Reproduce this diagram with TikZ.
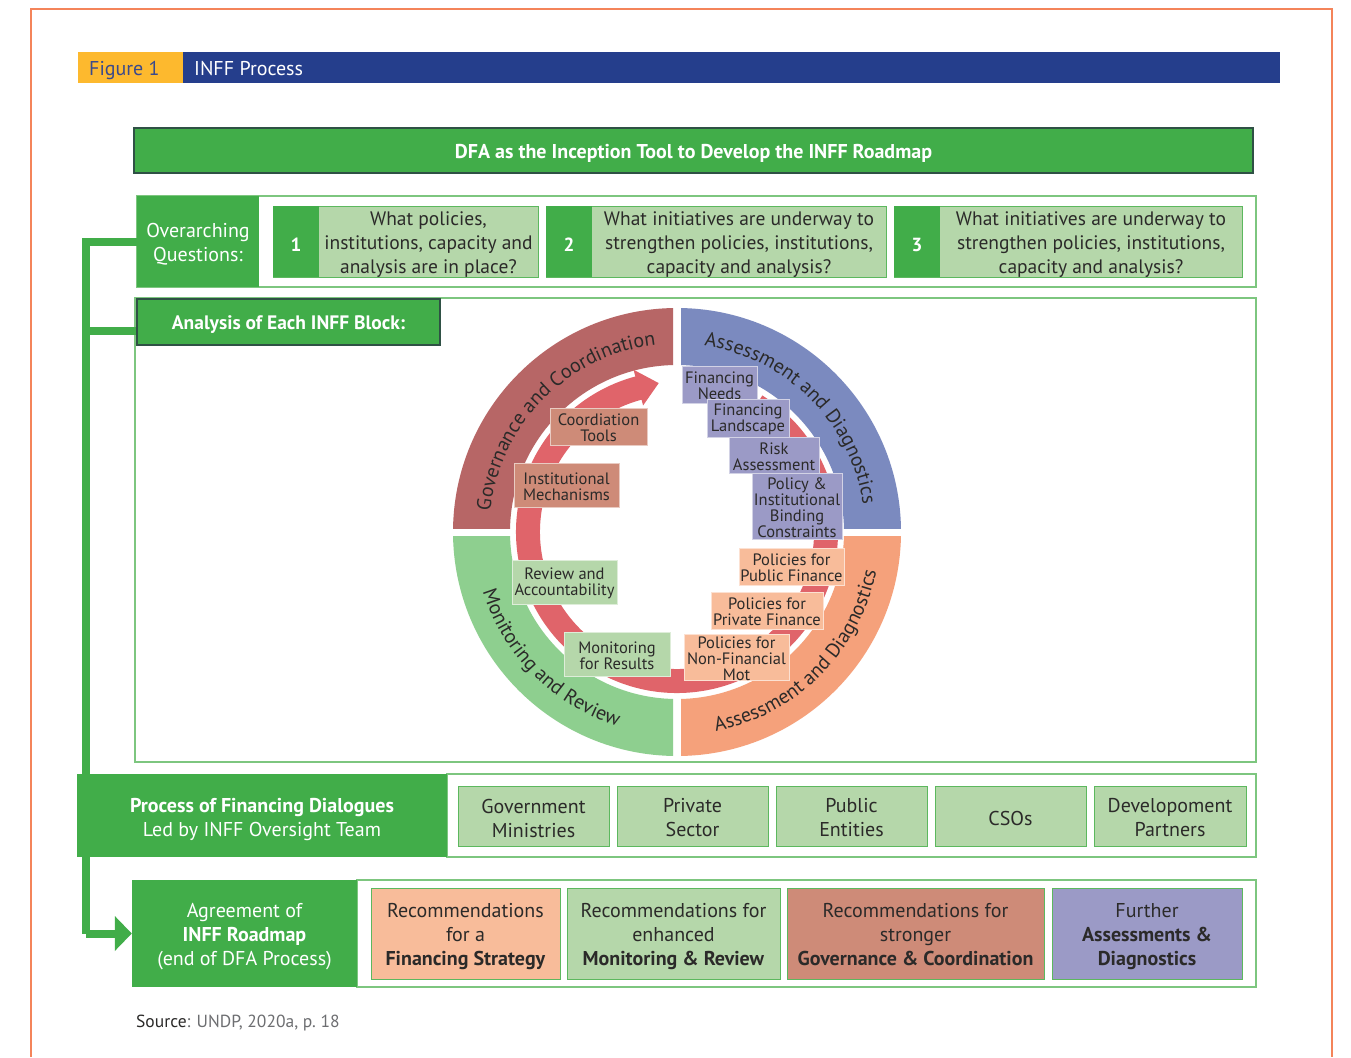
\documentclass[tikz,border=0pt]{standalone}
\usepackage{fontspec}
\setmainfont{PT Sans}
\usetikzlibrary{arrows.meta,decorations.text,calc}
\definecolor{gmain}{HTML}{41AD49}
\definecolor{glight}{HTML}{B5D7AA}
\definecolor{gframe}{HTML}{7DC67F}
\definecolor{gborder}{HTML}{5CB85E}
\definecolor{darkedge}{HTML}{2F5145}
\definecolor{hyellow}{HTML}{FDB92E}
\definecolor{hblue}{HTML}{253E8C}
\definecolor{figtext}{HTML}{3A4A8C}
\definecolor{peach}{HTML}{F8BC9A}
\definecolor{brownc}{HTML}{CE8B78}
\definecolor{purplec}{HTML}{9B9AC6}
\definecolor{ringGC}{HTML}{B76666}
\definecolor{ringAD}{HTML}{7B8ABF}
\definecolor{ringADb}{HTML}{F5A17B}
\definecolor{ringMR}{HTML}{8ECF8F}
\definecolor{arrowred}{HTML}{E0646A}
\definecolor{txt}{HTML}{2B2A29}
\definecolor{srcgray}{HTML}{6D6E71}
\definecolor{orangeframe}{HTML}{F4845A}
\newcommand\fs[2]{\fontsize{#1}{#2}\selectfont}
% \mybox[text shift]{style}{x1}{y1}{x2}{y2}{name}{text}
\newcommand\mybox[8][3]{%
  \node[#2,minimum width={(#5)-(#3)},minimum height={(#6)-(#4)}] (#7) at ({((#3)+(#5))/2},{((#4)+(#6))/2}) {};
  \node[#2,draw=none,fill=none] (#7-t) at ($(#7.center)+(0,#1)$) {#8};}
\begin{document}
\begin{tikzpicture}[x=1pt,y=-1pt,
  greenbox/.style={fill=gmain, text=white, inner sep=0, align=center},
  lightbox/.style={fill=glight, draw=gborder, line width=1, text=txt, inner sep=0, align=center},
  recbox/.style={draw=gborder, line width=1, text=txt, inner sep=0, align=center, font=\fs{20}{24}, text depth=4.4pt},
  partbox/.style={lightbox, font=\fs{20}{24}},
  qbox/.style={lightbox, font=\fs{19.5}{24}},
  numbox/.style={greenbox, font=\bfseries\fs{19}{24}},
  framebox/.style={draw=gframe, line width=1.3},
  conn/.style={draw=gmain, line width=8, line join=miter},
  ib/.style={inner sep=0, align=center, text=txt, line width=1, font=\fs{16.5}{16}},
  ringtext/.style={decorate, decoration={text along path, text align=center, text color=txt}}
]
\useasboundingbox[fill=white] (0,0) rectangle (1351,1057);
\draw[orangeframe, line width=1.2] (31,1057) -- (31,9) -- (1332,9) -- (1332,1057);

% header
\mybox{fill=hyellow, inner sep=0}{78}{52}{183}{83}{figbox}{}
\mybox{fill=hblue, inner sep=0}{183}{52}{1280}{83}{bluebar}{}
\node[anchor=base west, text=figtext, font=\fs{20}{24}, inner sep=0] (figtxt) at (89,75) {Figure 1};
\node[anchor=base west, text=white, font=\fs{20}{24}, inner sep=0] (proctitle) at (194,75) {INFF Process};

% title bar
\mybox{greenbox, draw=darkedge, line width=1.2, font=\bfseries\fs{20}{24}}{134}{128}{1253}{173}{title}{DFA as the Inception Tool to Develop the INFF Roadmap}

% frames
\draw[framebox] (137,196) rectangle (1256,287);
\draw[framebox] (135,298) rectangle (1256,762);
\draw[framebox] (447,774) rectangle (1256,857);
\draw[framebox] (357,880) rectangle (1256,987);

% boxes that the trunk attaches to
\mybox{greenbox, font=\fs{20}{24}}{137}{196}{259}{287}{ovq}{Overarching\\Questions:}
\mybox{greenbox, draw=darkedge, line width=1.2, font=\bfseries\fs{19.5}{24}}{137}{299}{440}{345}{ana}{Analysis of Each INFF Block:}
\mybox{greenbox, font=\fs{20}{24}}{132}{880}{357}{987}{agr}{Agreement of\\\textbf{INFF Roadmap}\\(end of DFA Process)}

% trunk connector
\coordinate (tk2) at (86,331);
\coordinate (tk3) at (86,933.5);
\draw[conn] (ovq.west) -| (tk3);
\draw[conn] (tk2) -- (ana.west |- tk2);
\draw[conn, -{Triangle[length=17pt,width=34pt]}] (tk3) -- (agr.west);

% question boxes
\mybox{qbox}{273}{206}{538}{277}{q1}{}
\mybox{qbox}{546}{206}{886}{277}{q2}{}
\mybox{qbox}{894}{206}{1242}{277}{q3}{}
\mybox{numbox}{273}{206}{319}{277}{n1}{1}
\mybox{numbox}{546}{206}{592}{277}{n2}{2}
\mybox{numbox}{894}{206}{940}{277}{n3}{3}
\node[text=txt, align=center, font=\fs{19.5}{24}, inner sep=0] (q1t) at (428.5,244.5) {What policies,\\institutions, capacity and\\analysis are in place?};
\node[text=txt, align=center, font=\fs{19.5}{24}, inner sep=0] (q2t) at (739,244.5) {What initiatives are underway to\\strengthen policies, institutions,\\capacity and analysis?};
\node[text=txt, align=center, font=\fs{19.5}{24}, inner sep=0] (q3t) at (1091,244.5) {What initiatives are underway to\\strengthen policies, institutions,\\capacity and analysis?};

% ring
\begin{scope}[shift={(677,532)}, y=1pt]
  \begin{scope}
    \clip (4,4) rectangle (240,240);
    \fill[ringAD, even odd rule] (0,0) circle[radius=224] (0,0) circle[radius=167];
  \end{scope}
  \begin{scope}
    \clip (-4,4) rectangle (-240,240);
    \fill[ringGC, even odd rule] (0,0) circle[radius=224] (0,0) circle[radius=167];
  \end{scope}
  \begin{scope}
    \clip (4,-4) rectangle (240,-240);
    \fill[ringADb, even odd rule] (0,0) circle[radius=224] (0,0) circle[radius=167];
  \end{scope}
  \begin{scope}
    \clip (-4,-4) rectangle (-240,-240);
    \fill[ringMR, even odd rule] (0,0) circle[radius=224] (0,0) circle[radius=167];
  \end{scope}
  \path[ringtext, decoration={text={|\fs{20}{20}|Governance and Coordination}}] (215:188) arc[start angle=215, end angle=55, radius=188];
  \path[ringtext, decoration={text={|\fs{20}{20}|Assessment and Diagnostics}}] (125:188) arc[start angle=125, end angle=-35, radius=188];
  \path[ringtext, decoration={text={|\fs{20}{20}|Assessment and Diagnostics}}] (-125:203) arc[start angle=-125, end angle=35, radius=203];
  \path[ringtext, decoration={text={|\fs{20}{20}|Monitoring and Review}}] (145:203) arc[start angle=145, end angle=305, radius=203];
  \fill[arrowred] (58:161) arc[start angle=58, end angle=-255, radius=161] -- (-255:168) -- (-263:150) -- (-255:131) -- (-255:137) arc[start angle=-255, end angle=58, radius=137] -- cycle;
\end{scope}

% inner labels
\mybox[1.5]{ib, fill=brownc, draw=brownc!45!white}{550}{408}{647}{445}{coord}{Coordiation\\Tools}
\mybox[1.5]{ib, fill=brownc, draw=brownc!45!white}{514}{463}{619}{507}{inst}{Institutional\\Mechanisms}
\mybox[1.5]{ib, fill=purplec, draw=purplec!45!white}{682}{366}{757}{403}{finneeds}{Financing\\Needs}
\mybox[1.5]{ib, fill=purplec, draw=purplec!45!white}{707}{399}{789}{437}{finland}{Financing\\Landscape}
\mybox[1.5]{ib, fill=purplec, draw=purplec!45!white}{729}{437}{819}{473}{risk}{Risk\\Assessment}
\mybox[1.5]{ib, fill=purplec, draw=purplec!45!white}{752}{473}{842}{539}{policy}{Policy \&\\Institutional\\Binding\\Constraints}
\mybox[1.5]{ib, fill=peach, draw=peach!45!white}{739}{548}{844}{585}{pubfin}{Policies for\\Public Finance}
\mybox[1.5]{ib, fill=peach, draw=peach!45!white}{711}{592}{823}{629}{privfin}{Policies for\\Private Finance}
\mybox[1.5]{ib, fill=peach, draw=peach!45!white}{684}{634}{789}{680}{nonfin}{Policies for\\Non-Financial\\Mot}
\mybox[1.5]{ib, fill=glight, draw=glight!45!white}{512}{560}{617}{604}{review}{Review and\\Accountability}
\mybox[1.5]{ib, fill=glight, draw=glight!45!white}{564}{632}{670}{676}{monres}{Monitoring\\for Results}

% process row
\mybox[3.5]{greenbox, font=\fs{20}{24}}{77}{774}{447}{857}{proc}{\textbf{Process of Financing Dialogues}\\Led by INFF Oversight Team}
\mybox[2]{partbox}{458}{786}{609}{846}{gov}{Government\\Ministries}
\mybox[2]{partbox}{617}{786}{768}{846}{priv}{Private\\Sector}
\mybox[2]{partbox}{776}{786}{927}{846}{pub}{Public\\Entities}
\mybox[2]{partbox}{935}{786}{1086}{846}{cso}{CSOs}
\mybox[2]{partbox}{1094}{786}{1246}{846}{dev}{Developoment\\Partners}

% recommendations row
\mybox{recbox, fill=peach}{371}{888}{560}{979}{rec1}{Recommendations\\for a\\\textbf{Financing Strategy}}
\mybox{recbox, fill=glight}{567}{888}{780}{979}{rec2}{Recommendations for\\enhanced\\\textbf{Monitoring \& Review}}
\mybox{recbox, fill=brownc}{787}{888}{1044}{979}{rec3}{Recommendations for\\stronger\\\textbf{Governance \& Coordination}}
\mybox{recbox, fill=purplec}{1052}{888}{1242}{979}{rec4}{Further\\\textbf{Assessments \&}\\\textbf{Diagnostics}}

% source
\node[anchor=base west, font=\fs{17.5}{20}, inner sep=0] (src) at (136,1027) {\textcolor{txt}{Source}\textcolor{srcgray}{: UNDP, 2020a, p.~18}};
\end{tikzpicture}
\end{document}
